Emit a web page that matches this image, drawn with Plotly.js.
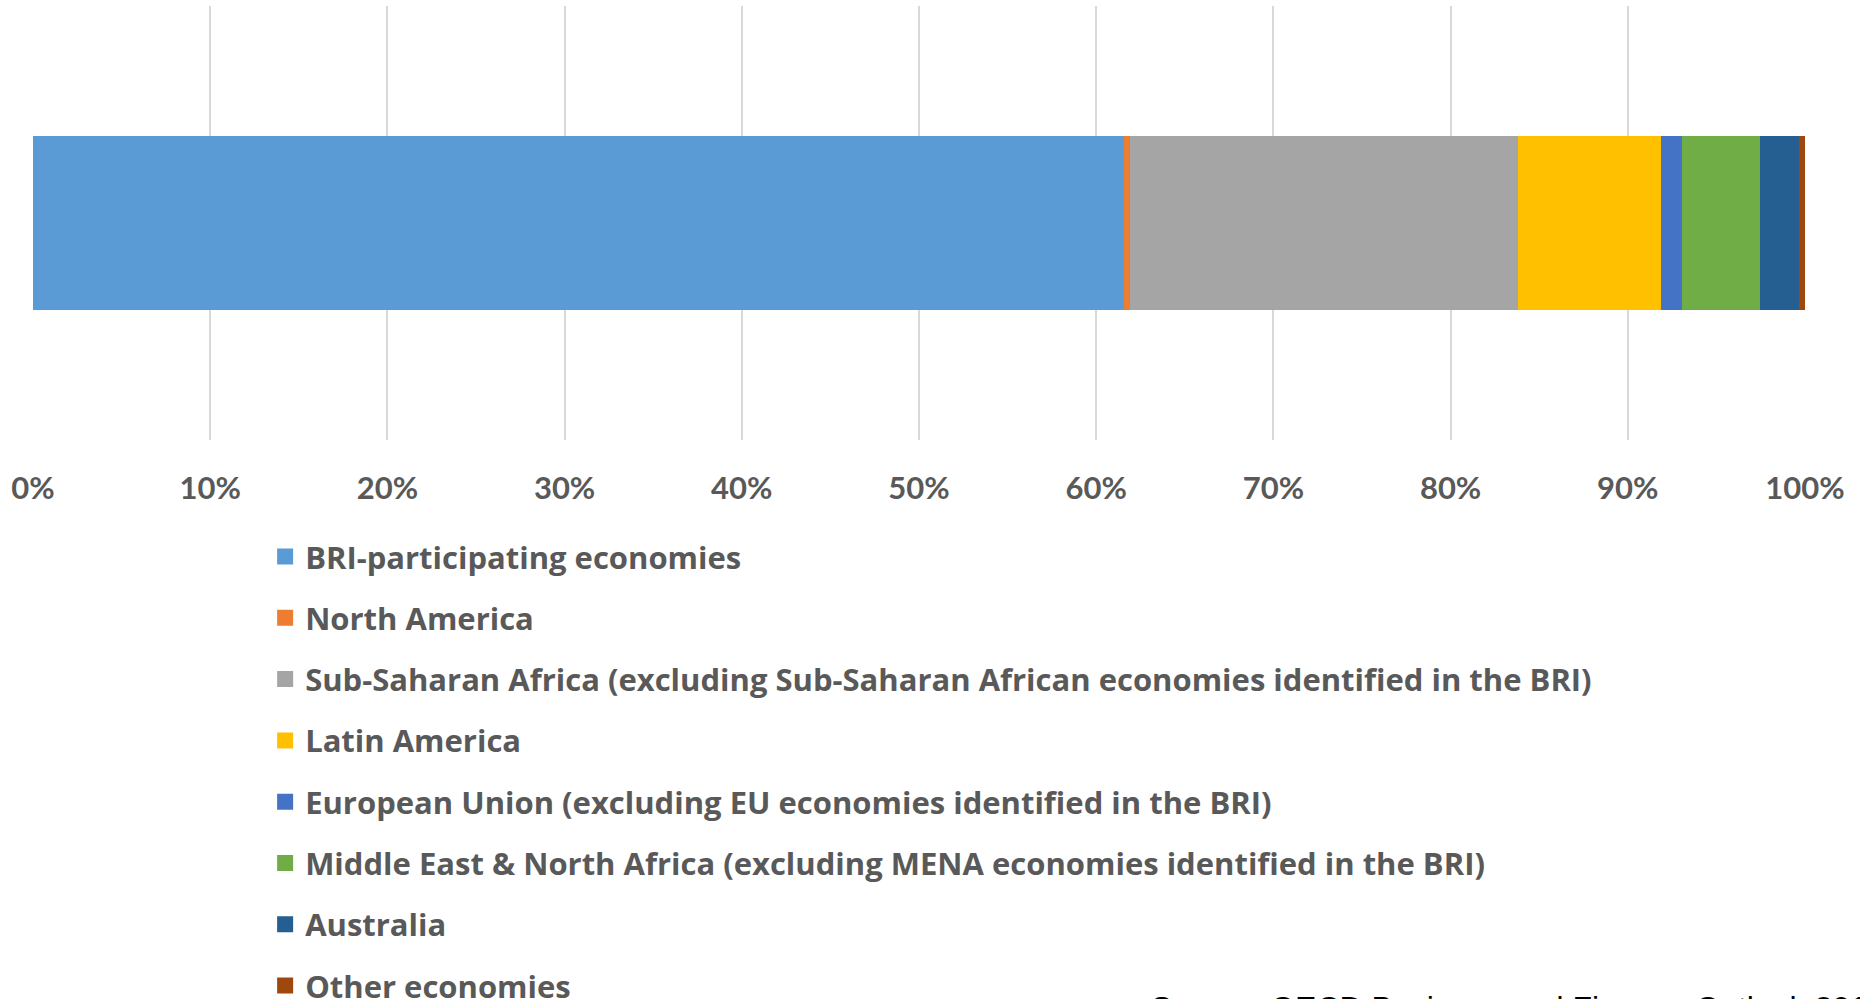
<!DOCTYPE html>
<html>
<head>
<meta charset="utf-8">
<script src="https://cdn.plot.ly/plotly-3.0.1.min.js"></script>
<style>html,body{margin:0;padding:0;background:#fff;}#chart{width:1860px;height:999px;}</style>
</head>
<body>
<div id="chart"></div>
<script>
var categories = ["Share"];
var seriesNames = [
  "BRI-participating economies",
  "North America",
  "Sub-Saharan Africa (excluding Sub-Saharan African economies identified in the BRI)",
  "Latin America",
  "European Union (excluding EU economies identified in the BRI)",
  "Middle East & North Africa (excluding MENA economies identified in the BRI)",
  "Australia",
  "Other economies"
];
var seriesValues = [0.6155, 0.0035, 0.219, 0.081, 0.0115, 0.0443, 0.0216, 0.0036];
var seriesColors = ["#5B9BD5", "#ED7D31", "#A5A5A5", "#FFC000", "#4472C4", "#70AD47", "#255E91", "#9E480E"];
var tickValues = [0, 0.1, 0.2, 0.3, 0.4, 0.5, 0.6, 0.7, 0.8, 0.9, 1.0];
var tickLabels = ["0%", "10%", "20%", "30%", "40%", "50%", "60%", "70%", "80%", "90%", "100%"];
var sourceText = "Source: OECD Business and Finance Outlook 2018";

var traces = [];
seriesNames.forEach(function (name, i) {
  traces.push({
    type: "bar",
    orientation: "h",
    name: name,
    x: [seriesValues[i]],
    y: categories,
    legendgroup: "g" + i,
    showlegend: false,
    marker: { color: seriesColors[i], line: { width: 0 } },
    hoverinfo: "name+x"
  });
});
// legend entries (square swatches) linked to the bars through legendgroup
seriesNames.forEach(function (name, i) {
  traces.push({
    type: "scatter",
    mode: "markers",
    name: name,
    x: [null],
    y: [null],
    legendgroup: "g" + i,
    showlegend: true,
    marker: { symbol: "square", size: 16, color: seriesColors[i] },
    hoverinfo: "skip"
  });
});

var layout = {
  width: 1860,
  height: 999,
  margin: { l: 33, r: 55, t: 6, b: 559, autoexpand: false },
  paper_bgcolor: "#ffffff",
  plot_bgcolor: "#ffffff",
  barmode: "stack",
  bargap: 0.6,
  showlegend: true,
  font: { family: "'Open Sans', sans-serif", color: "#595959" },
  xaxis: {
    range: [0, 1],
    tickvals: tickValues,
    ticktext: tickLabels,
    showgrid: true,
    gridcolor: "#d9d9d9",
    gridwidth: 2,
    zeroline: false,
    showline: false,
    ticks: "",
    ticklabelstandoff: 27,
    tickfont: { family: "Lato, 'Open Sans', sans-serif", size: 31, color: "#595959", weight: "bold" },
    fixedrange: true
  },
  yaxis: {
    showticklabels: false,
    showgrid: false,
    zeroline: false,
    showline: false,
    ticks: "",
    range: [-0.5, 0.5],
    fixedrange: true
  },
  legend: {
    orientation: "v",
    x: 0.131,
    xanchor: "left",
    y: -0.207,
    yanchor: "top",
    traceorder: "grouped",
    tracegroupgap: 18,
    itemsizing: "trace",
    font: { family: "'Open Sans', sans-serif", size: 31, color: "#595959", weight: "bold" },
    itemwidth: 30,
    bgcolor: "rgba(0,0,0,0)"
  },
  annotations: [{
    text: sourceText,
    xref: "paper", yref: "paper",
    x: (1149 - 33) / 1772, y: -(988 - 440) / 434,
    xanchor: "left", yanchor: "top",
    showarrow: false,
    font: { family: "'Liberation Sans', Arial, sans-serif", size: 32, color: "#000000" }
  }]
};

Plotly.newPlot("chart", traces, layout, { displayModeBar: false });
</script>
</body>
</html>
